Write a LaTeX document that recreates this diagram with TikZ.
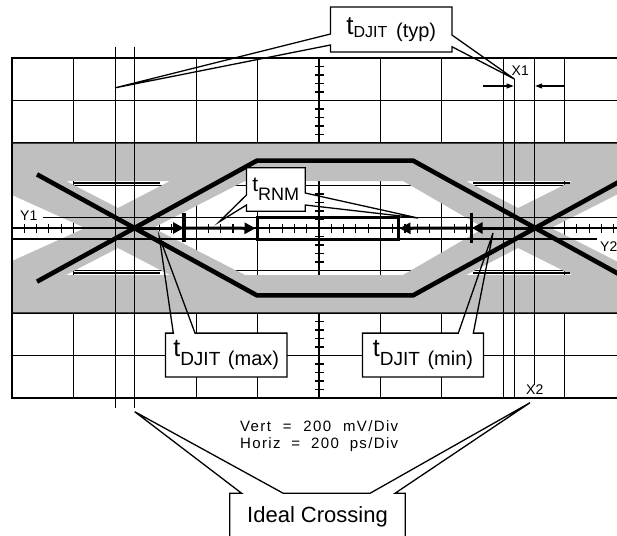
\documentclass[tikz,border=0pt]{standalone}
\usepackage{fontspec}
\setmainfont{Liberation Sans}
\usetikzlibrary{arrows.meta,calc}

\begin{document}
\begin{tikzpicture}[
    x=1pt, y=-1pt,
    grid/.style={line width=1.1pt},
    cursor/.style={line width=1.2pt},
    envelope/.style={fill=black!25, even odd rule},
    eye/.style={line width=4.6pt},
    span/.style={-{Triangle[length=11pt,width=11pt]}, line width=3pt},
    bar/.style={line width=3.2pt},
    probe/.style={-{Triangle[length=7pt,width=5pt]}, line width=1.1pt},
    callbox/.style={fill=white, inner sep=0pt},
    outline/.style={line width=1.3pt},
    small/.style={font=\fontsize{14}{14}\selectfont, inner sep=0pt, anchor=base west},
    scaletxt/.style={font=\fontsize{15}{15}\selectfont\addfontfeature{LetterSpace=9}, inner sep=0pt, anchor=base west}
  ]
  \useasboundingbox (0,0) rectangle (617,535);
  \clip (0,0) rectangle (617,535);

  % Graticule
  \foreach \i in {1,...,9} \draw[grid] ({12+61.4*\i},58) -- ({12+61.4*\i},398);
  \foreach \i in {1,...,7} \draw[grid] (12,{58+42.5*\i}) -- (626,{58+42.5*\i});
  \foreach \i in {1,...,49} \draw[grid] ({12+12.28*\i},223.5) -- ({12+12.28*\i},232.5);
  \foreach \i in {1,...,39} \draw[grid] (314.5,{58+8.5*\i}) -- (323.5,{58+8.5*\i});

  % Signal envelope
  \fill[envelope] (12,143.6) rectangle (626,312.4)
    (12,195) -- (85,228) -- (12,261) -- cycle
    (66,181) -- (170,181) -- (118,208) -- cycle
    (66,275) -- (170,275) -- (118,248) -- cycle
    (153,228) -- (245,181) -- (403,181) -- (484,228) -- (403,275) -- (245,275) -- cycle
    (466,181) -- (572,181) -- (518,208) -- cycle
    (466,275) -- (572,275) -- (518,248) -- cycle
    (551,228) -- (626,190) -- (626,266) -- cycle;

  % Cursors
  \draw[grid] (12,228) -- (626,228);
  \draw[grid] (73,183) -- (160,183) (73,273) -- (160,273)
    (473,183) -- (570,183) (473,273) -- (570,273);
  \draw[cursor] (43,217.7) -- (626,217.7);
  \draw[cursor] (12,239) -- (597,239);
  \draw[cursor] (115.7,46.7) -- (115.7,408.3);
  \draw[cursor] (134.7,46.7) -- (134.7,408.3);
  \draw[cursor] (503.2,58) -- (503.2,398);
  \draw[cursor] (514.3,79) -- (514.3,398);
  \draw[cursor] (534.5,58) -- (534.5,385);
  \draw[grid, line width=1.3pt] (12,58) rectangle (626,398);

  \node[small] (y1) at (20,220) {Y1};
  \node[small] (y2) at (600,251.7) {Y2};
  \node[small] (x1) at (511.5,75) {X1};
  \node[small] (x2) at (526,394.3) {X2};

  % X1 markers
  \coordinate (p1) at (483.3,86);
  \coordinate (p1end) at (513.6,86);
  \coordinate (p2) at (565,86);
  \coordinate (p2end) at (535.2,86);
  \draw[probe] (p1) -- (p1end);
  \draw[probe] (p2) -- (p2end);

  % Eye mask
  \draw[eye] (37,174.4) -- (257,295.4) -- (413,295.4) -- (632.5,174.4);
  \draw[eye] (37,281.6) -- (257,160.6) -- (413,160.6) -- (632.5,281.6);

  % Jitter spans
  \coordinate (xl) at (134.5,228);
  \coordinate (xr) at (535,228);
  \coordinate (barl) at (184,228);
  \coordinate (barr) at (471.7,228);
  \node[draw, line width=3pt, minimum width=141pt, minimum height=21.5pt, inner sep=0pt] (zone) at (327.5,228.3) {};
  \draw[span] (xl) -- (barl);
  \draw[span] (barl) -- (zone.west);
  \draw[span] (xr) -- (barr);
  \draw[span] (barr) -- (zone.east);
  \draw[bar] (barl) ++(0,-15) -- ++(0,29);
  \draw[bar] (barr) ++(0,-15) -- ++(0,29.7);

  % t_DJIT (typ)
  \coordinate (typtipl) at (115.7,87.7);
  \coordinate (typtipr) at (514.3,79);
  \node[callbox, minimum width=121pt, minimum height=44.4pt] (typ) at (391.2,29.5)
    {\fontsize{26}{26}\selectfont t\raisebox{-3pt}{\fontsize{16}{16}\selectfont DJIT\hspace{0.55em}\fontsize{20}{20}\selectfont(typ)}};
  \draw[outline] (typ.north west) -- (typ.north east) -- (typ.east |- 0,35) -- (typtipr)
    -- (typ.east |- 0,46.7) -- (typ.south east) -- (typ.south west) -- (typ.west |- 0,45)
    -- (typtipl) -- (typ.west |- 0,34) -- cycle;

  % t_RNM
  \coordinate (rnmtipl) at (219,222);
  \coordinate (rnmtipr) at (418,218);
  \node[callbox, minimum width=58.3pt, minimum height=43pt] (rnm) at (275.8,189.5)
    {\fontsize{21}{21}\selectfont t\raisebox{-9pt}{\fontsize{18}{18}\selectfont RNM}};
  \draw[outline] (rnm.north west) -- (rnm.north east) -- (rnm.east |- 0,193) -- (rnmtipr)
    -- (rnm.east |- 0,205) -- (rnm.south east) -- (rnm.south west) -- (rnm.west |- 0,205)
    -- (rnmtipl) -- (rnm.west |- 0,195) -- cycle;

  % t_DJIT (max) and (min)
  \coordinate (maxtip) at (159.3,236.7);
  \node[callbox, minimum width=121pt, minimum height=43.4pt] (max) at (226.2,355)
    {\fontsize{25}{25}\selectfont t\raisebox{-9pt}{\fontsize{19}{19}\selectfont DJIT\hspace{0.4em}\fontsize{20}{20}\selectfont(max)}};
  \draw[outline] (max.south west) -- (max.north west) -- (max.north west -| 173.3,0) -- (maxtip)
    -- (max.north west -| 195,0) -- (max.north east) -- (max.south east) -- cycle;

  \coordinate (mintip) at (493,233);
  \node[callbox, minimum width=120.6pt, minimum height=43.4pt] (min) at (423,355)
    {\fontsize{25}{25}\selectfont t\raisebox{-9pt}{\fontsize{19}{19}\selectfont DJIT\hspace{0.4em}\fontsize{20}{20}\selectfont(min)}};
  \draw[outline] (min.south west) -- (min.north west) -- (min.north west -| 458.3,0) -- (mintip)
    -- (min.north west -| 473.3,0) -- (min.north east) -- (min.south east) -- cycle;

  % Scale
  \node[scaletxt] (vert) at (240,431.5) {\makebox[158pt][s]{Vert = 200 mV/Div}};
  \node[scaletxt] (horiz) at (240,448.5) {\makebox[158pt][s]{Horiz = 200 ps/Div}};

  % Ideal Crossing
  \coordinate (idltipl) at (134.7,411.7);
  \coordinate (idltipr) at (530,402.7);
  \node[callbox, anchor=north, minimum width=175pt, text height=20pt, text depth=20pt,
    inner ysep=8.7pt, font=\fontsize{22}{22}\selectfont] (ideal) at (317.5,493.3) {Ideal Crossing};
  \draw[outline] (ideal.south west) -- (ideal.north west) -- (ideal.north west -| 241.7,0) -- (idltipl)
    -- (ideal.north west -| 283.3,0) -- (ideal.north west -| 370,0) -- (idltipr)
    -- (ideal.north west -| 395,0) -- (ideal.north east) -- (ideal.south east);
\end{tikzpicture}
\end{document}
